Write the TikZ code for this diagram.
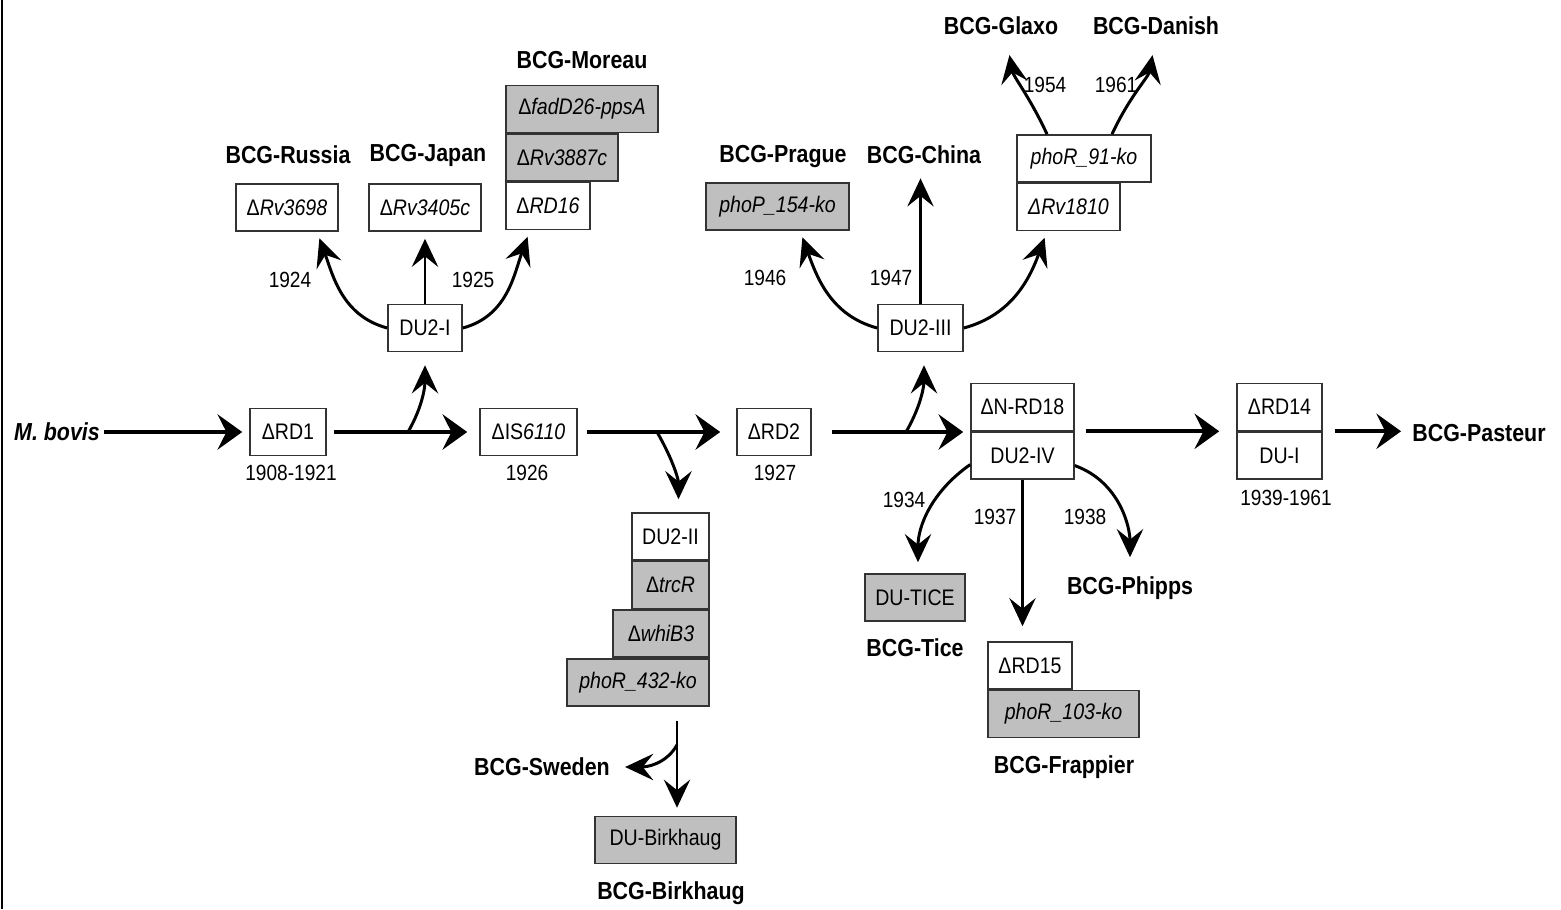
\documentclass[tikz,border=0pt]{standalone}
\usepackage{fontspec}
\setmainfont{Liberation Sans}[FakeStretch=0.87]
\usetikzlibrary{arrows.meta, positioning}

\begin{document}
\begin{tikzpicture}[x=0.02cm, y=-0.02cm,
    box/.style={draw=black!80, line width=0.9pt, fill=white, inner sep=0pt,
      minimum height=0.94cm, font=\fontsize{12.8}{14}\selectfont},
    gbox/.style={box, fill=black!25},
    lbl/.style={inner sep=0pt, font=\fontsize{14}{16}\selectfont\bfseries},
    yr/.style={inner sep=0pt, font=\fontsize{12.5}{14}\selectfont},
    trunk/.style={line width=2.3pt, -{Stealth[length=14pt,width=20pt,inset=5pt]}},
    twig/.style={line width=1.7pt, -{Stealth[length=16pt,width=15pt,inset=6pt]}},
    thinarr/.style={line width=1.2pt, -{Stealth[length=16pt,width=15pt,inset=6pt]}}]

  \useasboundingbox (0,0) rectangle (1561,909);
  \draw[line width=1.5pt] (2,0) -- (2,909);

  % main line
  \node[lbl] (mbovis) at (57,432) {\itshape M. bovis};
  \node[box, minimum width=1.52cm] (rd1) at (288,432) {ΔRD1};
  \node[box, minimum width=1.94cm] (is6110) at (528.5,432) {ΔIS\textit{6110}};
  \node[box, minimum width=1.48cm] (rd2) at (774,432) {ΔRD2};
  \node[box, minimum width=2.06cm] (nrd18) at (1022.5,407) {ΔN-RD18};
  \node[box, minimum width=2.06cm, anchor=north] (du2iv) at (nrd18.south) {DU2-IV};
  \node[box, minimum width=1.7cm] (rd14) at (1279.5,407) {ΔRD14};
  \node[box, minimum width=1.7cm, anchor=north] (dui) at (rd14.south) {DU-I};
  \node[lbl] (pasteur) at (1479,433) {BCG-Pasteur};

  \node[yr] (y1908) at (291,473) {1908-1921};
  \node[yr] (y1926) at (527,473) {1926};
  \node[yr] (y1927) at (775,473) {1927};
  \node[yr] (y1939) at (1286,498) {1939-1961};

  % DU2-I
  \node[box, minimum width=1.48cm] (du2i) at (425,328) {DU2-I};
  \node[box, minimum width=2.04cm] (rv3698) at (287,207.5) {Δ\textit{Rv3698}};
  \node[box, minimum width=2.24cm] (rv3405c) at (425,207.5) {Δ\textit{Rv3405c}};
  \node[box, minimum width=1.68cm] (rd16) at (548,206) {Δ\textit{RD16}};
  \node[gbox, minimum width=2.24cm, anchor=south west] (rv3887c) at (rd16.north west) {Δ\textit{Rv3887c}};
  \node[gbox, minimum width=3.04cm, anchor=south west] (fadd26) at (rv3887c.north west) {Δ\textit{fadD26-ppsA}};
  \node[lbl] (russia) at (288,155) {BCG-Russia};
  \node[lbl] (japan) at (428,155) {BCG-Japan};
  \node[lbl] (moreau) at (582,60) {BCG-Moreau};
  \node[yr] (y1924) at (290,280) {1924};
  \node[yr] (y1925) at (473,280) {1925};

  % DU2-III
  \node[box, minimum width=1.7cm] (du2iii) at (920.5,328) {DU2-III};
  \node[gbox, minimum width=2.86cm] (phop154) at (777.5,206.5) {\itshape phoP\_154-ko};
  \node[box, minimum width=2.06cm] (rv1810) at (1068.5,207) {\itshape ΔRv1810};
  \node[box, minimum width=2.68cm, anchor=south west] (phor91) at (rv1810.north west) {\itshape phoR\_91-ko};
  \node[lbl] (prague) at (783,157) {BCG-Prague};
  \node[lbl] (china) at (924,155) {BCG-China};
  \node[lbl] (glaxo) at (1001,26) {BCG-Glaxo};
  \node[lbl] (danish) at (1156,26) {BCG-Danish};
  \node[yr] (y1946) at (765,278) {1946};
  \node[yr] (y1947) at (891,278) {1947};
  \node[yr] (y1954) at (1045,85) {1954};
  \node[yr] (y1961) at (1116,85) {1961};

  % DU2-II
  \node[box, minimum width=1.54cm] (du2ii) at (670.5,536.5) {DU2-II};
  \node[gbox, minimum width=1.54cm, anchor=north east] (trcr) at (du2ii.south east) {Δ\textit{trcR}};
  \node[gbox, minimum width=1.92cm, anchor=north east] (whib3) at (trcr.south east) {Δ\textit{whiB3}};
  \node[gbox, minimum width=2.84cm, anchor=north east] (phor432) at (whib3.south east) {\itshape phoR\_432-ko};
  \node[gbox, minimum width=2.82cm] (birkhaug) at (665.5,840) {DU-Birkhaug};
  \node[lbl] (sweden) at (542,767) {BCG-Sweden};
  \node[lbl] (bbirk) at (671,893) {BCG-Birkhaug};

  % DU2-IV
  \node[gbox, minimum width=2cm] (dutice) at (915,597.5) {DU-TICE};
  \node[box, minimum width=1.68cm] (rd15) at (1030,665.5) {ΔRD15};
  \node[gbox, minimum width=3.02cm, anchor=north west] (phor103) at (rd15.south west) {\itshape phoR\_103-ko};
  \node[lbl] (tice) at (915,648) {BCG-Tice};
  \node[lbl] (phipps) at (1130,588) {BCG-Phipps};
  \node[lbl] (frappier) at (1064,767) {BCG-Frappier};
  \node[yr] (y1934) at (904,500) {1934};
  \node[yr] (y1937) at (995,517) {1937};
  \node[yr] (y1938) at (1085,517) {1938};

  % trunk arrows
  \draw[trunk, shorten <=0.08cm, shorten >=0.14cm] (mbovis) -- (rd1);
  \draw[trunk, shorten <=0.14cm, shorten >=0.24cm] (rd1) -- (is6110);
  \draw[trunk, shorten <=0.18cm, shorten >=0.32cm] (is6110) -- (rd2);
  \draw[trunk, shorten <=0.4cm, shorten >=0.14cm] (rd2.east) -- (rd2.east -| nrd18.west);
  \draw[trunk, shorten <=0.22cm, shorten >=0.34cm] (nrd18.south east) -- (rd14.south west);
  \draw[trunk, shorten <=0.24cm, shorten >=0.22cm] (rd14.south east) -- (rd14.south east -| pasteur.west);

  % branches off the trunk
  \coordinate (b1) at (408,432);
  \coordinate (b2) at (657,432);
  \coordinate (b3) at (906,432);
  \draw[twig, shorten >=0.26cm] (b1) to[out=60,in=-90] (du2i.south);
  \draw[twig, shorten >=0.26cm] (b2) to[out=-60,in=90] ([xshift=0.16cm]du2ii.north);
  \draw[twig, shorten >=0.26cm] (b3) to[out=60,in=-90] ([xshift=0.07cm]du2iii.south);

  \draw[twig, shorten >=0.14cm] (du2i.west) to[out=165,in=-70] ([xshift=0.6cm]rv3698.south);
  \draw[twig, shorten >=0.14cm] (du2i.north) -- (du2i.north |- rv3405c.south);
  \draw[twig, shorten >=0.14cm] (du2i.east) to[out=15,in=-110] ([xshift=-0.36cm]rd16.south);

  \draw[twig, shorten >=0.14cm] (du2iii.west) to[out=165,in=-70] ([xshift=0.45cm]phop154.south);
  \draw[thinarr, shorten >=0.28cm] (du2iii.north) -- (du2iii.north |- china.south);
  \draw[twig, shorten >=0.14cm] (du2iii.east) to[out=15,in=-110] ([xshift=-0.43cm]rv1810.south);

  \draw[twig, shorten >=0.4cm] ([xshift=-0.74cm]phor91.north) to[out=115,in=-80] ([xshift=0.1cm]glaxo.south);
  \draw[twig, shorten >=0.4cm] ([xshift=0.56cm]phor91.north) to[out=65,in=-100] (danish.south);

  \draw[twig, shorten >=0.22cm] ([yshift=-0.18cm]du2iv.west) to[out=215,in=90] ([xshift=0.06cm]dutice.north);
  \draw[thinarr, shorten >=0.3cm] (du2iv.south) -- (du2iv.south |- rd15.north);
  \draw[twig, shorten >=0.38cm] ([yshift=-0.2cm]du2iv.east) to[out=-20,in=90] (phipps.north);

  \coordinate (b4) at (677,745);
  \draw[thinarr, shorten <=0.28cm, shorten >=0.16cm] (b4 |- phor432.south) -- (b4 |- birkhaug.north);
  \draw[twig, shorten >=0.3cm] (b4) to[out=-120,in=0] (sweden.east);
\end{tikzpicture}
\end{document}
